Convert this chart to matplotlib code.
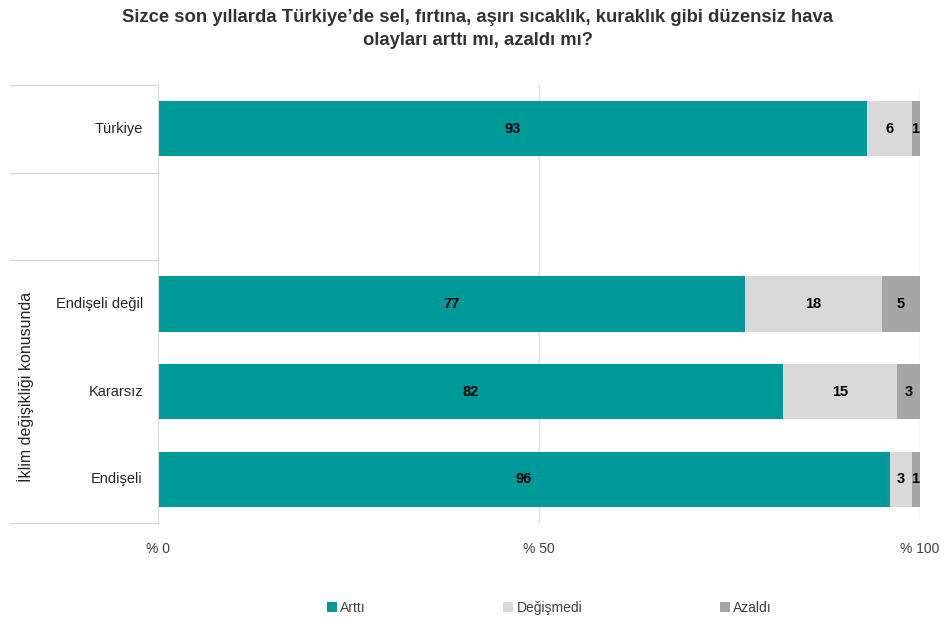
import numpy as np
import matplotlib
matplotlib.use("Agg")
import matplotlib.pyplot as plt
from matplotlib.patches import Patch

plt.rcParams['font.family'] = ['Liberation Sans', 'DejaVu Sans']

# rows top to bottom (blank row in between)
kategoriler = ['Türkiye', '', 'Endişeli değil', 'Kararsız', 'Endişeli']
artti = [93, None, 77, 82, 96]
degismedi = [6, None, 18, 15, 3]
azaldi = [1, None, 5, 3, 1]
seriler = ['Arttı', 'Değişmedi', 'Azaldı']
renkler = ['#009999', '#D9D9D9', '#A6A6A6']
xtikler = [0, 50, 100]
xetiketler = ['% 0', '% 50', '% 100']
grup = 'İklim değişikliği konusunda'
baslik = 'Sizce son yıllarda Türkiye’de sel, fırtına, aşırı sıcaklık, kuraklık gibi düzensiz hava\nolayları arttı mı, azaldı mı?'

fig = plt.figure(figsize=(9.44, 6.26), dpi=100)
ax = fig.add_axes([158/944, 1-523/626, 762/944, 438/626])

n = len(kategoriler)
y = np.arange(n)[::-1]
degerler = [artti, degismedi, azaldi]

for i in range(n):
    if artti[i] is None:
        continue
    sol = 0
    for s, seri in enumerate(degerler):
        v = seri[i]
        ax.barh(y[i], v, left=sol, height=0.63, color=renkler[s], edgecolor='none', zorder=2)
        x = sol + v / 2
        if s == 2 and v <= 1:
            x = sol + v / 2 - 0.2
        ax.text(x, y[i], str(v), ha='center', va='center', fontsize=10.5,
                fontweight='bold', color='black', zorder=3)
        sol += v

ax.set_xlim(0, 100)
ax.set_ylim(-0.5, n - 0.5)
ax.set_xticks(xtikler)
ax.set_xticklabels(xetiketler, fontsize=10, color='#404040')
ax.set_yticks([])
ax.tick_params(axis='x', length=0, pad=14)
for sp in ['top', 'right', 'bottom']:
    ax.spines[sp].set_visible(False)
ax.spines['left'].set_color('#D9D9D9')
for xv in [50, 100]:
    ax.axvline(xv, color='#E0E0E0', lw=1, zorder=1)

# category labels
for i, k in enumerate(kategoriler):
    ax.text(-0.0197, y[i], k, transform=ax.get_yaxis_transform(), ha='right', va='center',
            fontsize=10.5, color='#262626')

# left separator lines
tr = ax.get_yaxis_transform()
for yv in [4.5, 3.5, 2.5, -0.5]:
    ax.plot([-148/762, 0], [yv, yv], transform=tr, color='#D9D9D9', lw=1, clip_on=False)

ax.text(-132/762, 1.05, grup, transform=tr, rotation=90, ha='center', va='center',
        fontsize=11.5, color='#262626')

fig.text(0.506, 0.953, baslik, ha='center', va='center', fontsize=13.3,
         fontweight='bold', color='#333333', linespacing=1.45)

handles = [Patch(facecolor=c, edgecolor='none') for c in renkler]
fig.legend(handles, seriler, loc='center', bbox_to_anchor=(0.582, 1-608/626), ncol=3,
           frameon=False, fontsize=10, handlelength=0.7, handleheight=0.7,
           handletextpad=0.25, columnspacing=9.9, labelcolor='#404040')

fig.savefig('out.png', dpi=100)
